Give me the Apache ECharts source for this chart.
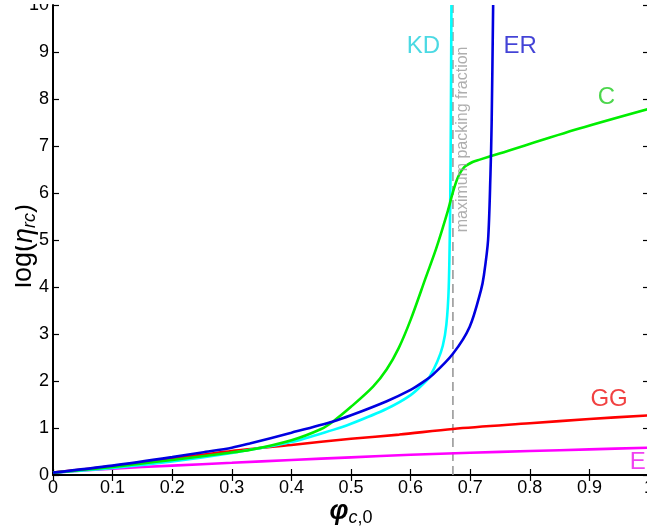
<!DOCTYPE html>
<html>
<head>
<meta charset="utf-8">
<script src="https://cdn.jsdelivr.net/npm/echarts@6/dist/echarts.min.js"></script>
<style>html,body{margin:0;padding:0;background:#fff;}#c{width:647px;height:528px;}</style>
</head>
<body>
<div id="c"></div>
<script>
// ---- data ----
const xTicks = [0, 0.1, 0.2, 0.3, 0.4, 0.5, 0.6, 0.7, 0.8, 0.9, 1];
const yTicks = [0, 1, 2, 3, 4, 5, 6, 7, 8, 9, 10];

const kdX = [0, 0.1, 0.2, 0.3, 0.4, 0.47, 0.5, 0.56, 0.6, 0.626, 0.632, 0.645, 0.654, 0.66, 0.664, 0.6664, 0.6675, 0.6685];
const kdY = [0.05, 0.15, 0.29, 0.47, 0.7, 0.96, 1.09, 1.41, 1.7, 2.0, 2.09, 2.42, 2.75, 3.2, 4.0, 5.7, 7.5, 10];

const erX = [0, 0.1, 0.2, 0.25, 0.3, 0.33, 0.4, 0.47, 0.5, 0.56, 0.6, 0.62, 0.637, 0.671, 0.699, 0.718, 0.723, 0.73, 0.734, 0.736, 0.7385];
const erY = [0.05, 0.2, 0.38, 0.48, 0.58, 0.67, 0.9, 1.14, 1.27, 1.57, 1.81, 1.97, 2.13, 2.58, 3.15, 3.93, 4.25, 5.0, 6.4, 7.5, 10];

const cX = [0, 0.1, 0.2, 0.3, 0.33, 0.4, 0.45, 0.47, 0.5, 0.537, 0.56, 0.58, 0.6, 0.626, 0.643, 0.6625, 0.671, 0.68, 0.69, 0.704, 0.716, 0.749, 0.883, 1.0];
const cY = [0.05, 0.17, 0.32, 0.48, 0.53, 0.74, 0.98, 1.14, 1.45, 1.88, 2.25, 2.7, 3.3, 4.22, 4.82, 5.62, 6.02, 6.35, 6.55, 6.66, 6.71, 6.84, 7.37, 7.79];

const ggX = [0, 0.1, 0.2, 0.3, 0.4, 0.5, 0.581, 0.671, 0.8, 0.9, 1.0];
const ggY = [0.05, 0.19, 0.35, 0.51, 0.64, 0.77, 0.86, 0.98, 1.1, 1.19, 1.27];

const eX = [0, 0.1, 0.2, 0.3, 0.4, 0.5, 0.6, 0.7, 0.8, 0.9, 1.0];
const eY = [0.05, 0.135, 0.2, 0.26, 0.32, 0.375, 0.43, 0.475, 0.51, 0.545, 0.58];

const maxPacking = 0.671;
const seriesNames = ['KD', 'ER', 'C', 'GG', 'E'];
const packingLabel = 'maximum packing fraction';

// ---- presentation ----
const FONT = 'Liberation Sans, Arial, Helvetica, sans-serif';
const colors = { KD: '#00FFFF', ER: '#0000E0', C: '#00EE00', GG: '#FF0000', E: '#FF00FF' };
const labelColors = { KD: '#1ECFDC', ER: '#1414CC', C: '#1FCC1F', GG: '#EE1111', E: '#EE11EE' };
const labelPos = { KD: [0.6216, 9.12], ER: [0.784, 9.12], C: [0.9287, 8.04], GG: [0.933, 1.61], E: [0.981, 0.27] };

function pairs(xs, ys) { return xs.map((x, i) => [x, ys[i]]); }

function curve(name, xs, ys, z) {
  return {
    name: name, type: 'line', data: pairs(xs, ys), showSymbol: false, symbol: 'none',
    smooth: 0.3, clip: true, z: z,
    lineStyle: { color: colors[name], width: 2.6 }, silent: true, animation: false
  };
}

const labelData = seriesNames.map(n => ({
  value: labelPos[n], name: n,
  label: { color: labelColors[n] }
}));
labelData.push({
  value: [0.6875, 7.14], name: packingLabel,
  label: { color: '#9a9a9a', fontSize: 16, rotate: 90 }
});

const axisTickStyle = { show: true, inside: true, length: 6, lineStyle: { color: '#000', width: 1.2 } };

const option = {
  backgroundColor: '#fff',
  animation: false,
  grid: { left: 53, right: -2, top: 5, bottom: 53, containLabel: false, outerBoundsMode: 'none' },
  xAxis: [{
    type: 'value', min: 0, max: 1, interval: 0.1, position: 'bottom',
    axisLine: { show: true, onZero: false, lineStyle: { color: '#000', width: 2 } },
    axisTick: axisTickStyle,
    splitLine: { show: false },
    axisLabel: { color: '#000', fontSize: 18, fontFamily: FONT, margin: 4, showMaxLabel: true, showMinLabel: true },
    name: '{phi|φ}{subi|c}{sub|,0}',
    nameLocation: 'middle', nameGap: 22, nameMoveOverlap: false,
    nameTextStyle: {
      rich: {
        phi: { fontSize: 27, fontWeight: 'bold', fontStyle: 'italic', fontFamily: FONT, color: '#000', lineHeight: 30 },
        subi: { fontSize: 18, fontStyle: 'italic', fontFamily: FONT, color: '#000', verticalAlign: 'bottom', lineHeight: 30 },
        sub: { fontSize: 18, fontFamily: FONT, color: '#000', verticalAlign: 'bottom', lineHeight: 30 }
      }
    }
  }, {
    type: 'value', min: 0, max: 1, interval: 0.1, position: 'top',
    axisLine: { show: false }, axisTick: axisTickStyle, axisLabel: { show: false }, splitLine: { show: false }
  }],
  yAxis: [{
    type: 'value', min: 0, max: 10, interval: 1, position: 'left',
    axisLine: { show: true, onZero: false, lineStyle: { color: '#000', width: 2 } },
    axisTick: axisTickStyle,
    splitLine: { show: false },
    axisLabel: { color: '#000', fontSize: 18, fontFamily: FONT, margin: 4 },
    name: '{n|log(}{eta|η}{sub|rc}{n|)}',
    nameLocation: 'middle', nameRotate: 90, nameGap: 14, nameMoveOverlap: false,
    nameTextStyle: {
      padding: [0, 12, 0, 0],
      rich: {
        n: { fontSize: 27, fontFamily: FONT, color: '#000', lineHeight: 30 },
        eta: { fontSize: 27, fontStyle: 'italic', fontFamily: FONT, color: '#000', lineHeight: 30 },
        sub: { fontSize: 18, fontStyle: 'italic', fontFamily: FONT, color: '#000', verticalAlign: 'bottom', lineHeight: 30 }
      }
    }
  }, {
    type: 'value', min: 0, max: 10, interval: 1, position: 'right',
    axisLine: { show: true, onZero: false, lineStyle: { color: '#000', width: 2 } },
    axisTick: axisTickStyle, axisLabel: { show: false }, splitLine: { show: false }
  }],
  series: [
    {
      name: 'packing', type: 'line', data: [[maxPacking, 0], [maxPacking, 10]], showSymbol: false, symbol: 'none',
      lineStyle: { color: '#999', width: 1.6, type: [9, 5] }, z: 1, silent: true
    },
    curve('E', eX, eY, 2),
    curve('GG', ggX, ggY, 3),
    curve('KD', kdX, kdY, 4),
    curve('C', cX, cY, 5),
    curve('ER', erX, erY, 6),
    {
      name: 'labels', type: 'scatter', data: labelData, symbolSize: 0, silent: true, z: 10,
      label: {
        show: true, position: 'inside', fontSize: 24, fontFamily: FONT,
        formatter: p => p.name
      }
    }
  ],
  graphic: [
    { type: 'rect', shape: { x: 0, y: 0, width: 647, height: 4 }, style: { fill: '#fff' }, z: 100 },
    { type: 'rect', shape: { x: 0, y: 120, width: 15, height: 220 }, style: { fill: '#fff' }, z: 100 }
  ]
};

const chart = echarts.init(document.getElementById('c'), null, { renderer: 'canvas' });
chart.setOption(option);
</script>
</body>
</html>
